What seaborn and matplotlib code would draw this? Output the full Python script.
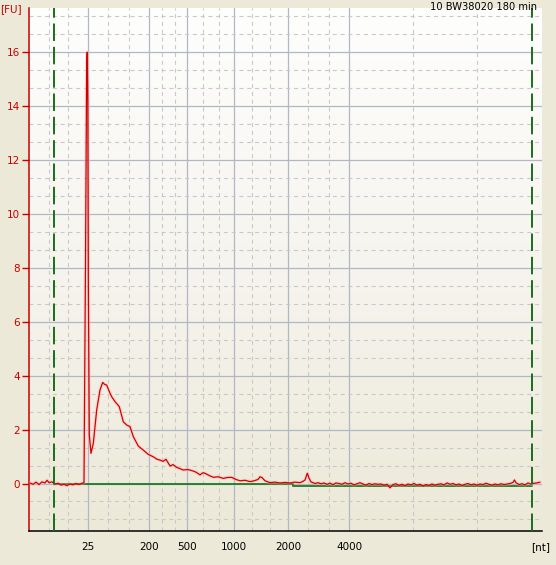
import numpy as np
import matplotlib
matplotlib.use("Agg")
import matplotlib.pyplot as plt
import seaborn as sns
from matplotlib.colors import LinearSegmentedColormap

# Electropherogram trace: migration time [s] and fluorescence [FU]
tiempo = [
    20.0, 20.3, 20.6, 20.9, 21.2, 21.5, 21.7, 21.9, 22.2, 22.5, 22.8, 23.1, 23.4, 23.7, 24.0,
    24.3, 24.6, 24.9, 25.2, 25.4,
    25.44, 25.56, 25.66, 25.72, 25.78, 25.83, 25.93, 26.1, 26.33, 26.67, 27.0, 27.27, 27.45,
    27.67, 28.0, 28.2, 28.5, 28.93, 29.33, 29.67, 30.0, 30.33, 30.83, 31.33, 31.83, 32.33,
    32.7, 33.0, 33.3, 33.6, 34.0, 34.3, 34.67, 35.0, 35.33, 35.8, 36.33, 36.6, 37.0, 37.3,
    37.5, 37.9, 38.33, 38.8, 39.33, 39.7, 40.17, 40.6, 41.0, 41.5, 42.0, 42.4, 42.8, 43.0,
    43.2, 43.5, 44.0, 44.5, 45.0, 45.5, 46.0, 46.5, 47.0, 47.3, 47.5, 47.73, 47.9, 48.1,
    48.5, 48.8, 49.1, 49.4, 49.7, 50.0, 50.3, 50.6, 50.9, 51.2, 51.5, 51.8, 52.1, 52.4,
    52.7, 53.0, 53.3, 53.6, 53.9, 54.2, 54.5, 54.8, 55.1, 55.4, 55.7, 56.0, 56.3, 56.6,
    56.9, 57.2, 57.5, 57.8, 58.1, 58.4, 58.7, 59.0, 59.3, 59.6, 59.9, 60.2, 60.5, 60.8,
    61.1, 61.4, 61.7, 62.0, 62.3, 62.6, 62.9, 63.2, 63.5, 63.8, 64.1, 64.4, 64.7, 65.0,
    65.3, 65.6, 65.9, 66.2, 66.5, 66.8, 67.1, 67.4, 67.7, 68.0, 68.3, 68.45, 68.6, 68.9,
    69.2, 69.5, 69.8, 70.1, 70.4, 70.7, 71.0,
]
fu = [
    0.02, -0.03, 0.05, -0.04, 0.06, 0.02, 0.12, 0.03, 0.06, -0.02, 0.01, -0.06, -0.03, -0.08, -0.02,
    -0.05, 0.00, -0.04, 0.01, 0.03,
    2.1, 8.8, 15.2, 16.0, 14.1, 7.7, 1.8, 1.12, 1.49, 2.73, 3.47, 3.75, 3.68,
    3.65, 3.35, 3.2, 3.04, 2.85, 2.29, 2.17, 2.11, 1.74, 1.39, 1.24, 1.08, 0.99,
    0.9, 0.87, 0.82, 0.9, 0.65, 0.7, 0.6, 0.55, 0.5, 0.52, 0.46, 0.42, 0.32, 0.4,
    0.38, 0.3, 0.23, 0.25, 0.19, 0.22, 0.23, 0.15, 0.1, 0.12, 0.07, 0.1, 0.15, 0.25,
    0.22, 0.1, 0.03, 0.05, 0.02, 0.04, 0.02, 0.05, 0.03, 0.08, 0.13, 0.38, 0.2, 0.06,
    0.00, 0.03, -0.01, 0.02, -0.03, 0.01, -0.04, 0.02, 0.00, -0.03, 0.03, -0.02, 0.01, -0.05,
    -0.01, 0.03, -0.02, -0.06, 0.00, -0.04, -0.01, -0.03, -0.02, -0.06, -0.03, -0.16, -0.04, -0.01,
    -0.07, -0.03, -0.08, -0.02, -0.05, 0.00, -0.06, -0.03, -0.09, -0.04, -0.07, -0.02, -0.06, -0.03,
    -0.01, -0.05, 0.02, -0.03, 0.00, -0.05, -0.02, -0.07, -0.03, 0.00, -0.05, -0.02, -0.06, -0.02,
    -0.04, 0.01, -0.03, -0.06, -0.02, -0.05, -0.01, -0.04, -0.02, 0.00, 0.04, 0.13, 0.03, -0.04,
    -0.01, -0.05, 0.02, -0.02, 0.01, 0.02, 0.05,
]

# Ladder sizes and their migration times
nt_labels = ["25", "200", "500", "1000", "2000", "4000"]
nt_times = [25.75, 31.93, 35.73, 40.43, 45.80, 51.93]

# lower / upper marker positions
marker_times = [22.35, 70.23]

# baseline
baseline_t = [22.35, 30.27, 46.27, 70.23]
baseline_fu = [0.0, -0.03, -0.08, -0.08]

titulo = "10 BW38020 180 min"

sns.set_style("white")
plt.rcParams["font.family"] = ["DejaVu Sans"]

W, H = 556, 565
fig = plt.figure(figsize=(W / 100, H / 100), dpi=100, facecolor="#ece9d8")
ax = fig.add_axes([29.3 / W, 1 - 530.7 / H, (541.5 - 29.3) / W, (530.7 - 8) / H])

# fondo en degradado
grad = np.linspace(0, 1, 256).reshape(-1, 1)
cmap = LinearSegmentedColormap.from_list("fondo", ["#fefefd", "#f6f4ee", "#ece9d8"])
ax.imshow(grad, extent=[0, 1, 0, 1], transform=ax.transAxes, cmap=cmap,
          aspect="auto", zorder=0, origin="upper")

xmin, xmax = 19.93, 71.15
ymin, ymax = -1.751, 17.64

# grid
ax.set_xticks(nt_times)
ax.set_xticklabels(nt_labels)
bordes = [xmin] + nt_times + [xmax]
menores = []
for a, b in zip(bordes[:-1], bordes[1:]):
    menores += [a + (b - a) / 3, a + 2 * (b - a) / 3]
ax.set_xticks(menores, minor=True)
ax.set_yticks(np.arange(0, 17, 2))
ax.set_yticks(np.arange(-4, 54, 2) / 3, minor=True)
ax.grid(which="major", color="#b2b7c6", lw=0.9, ls="-")
ax.grid(which="minor", color="#c9c9c9", lw=0.8, ls=(0, (3.6, 3.4)))
ax.set_axisbelow(True)

# baseline
sns.lineplot(x=baseline_t, y=baseline_fu, ax=ax, color="#1e7a1e", lw=1.3,
             drawstyle="steps-post", estimator=None, sort=False, zorder=3)

# trace (halo + line)
sns.lineplot(x=tiempo, y=fu, ax=ax, color="#ffb0b0", lw=2.6, alpha=0.35,
             estimator=None, sort=False, zorder=4)
sns.lineplot(x=tiempo, y=fu, ax=ax, color="#d40000", lw=0.9,
             estimator=None, sort=False, zorder=5)

# markers
for t in marker_times:
    ax.axvline(t, color="#1a6e1a", lw=1.4, ls=(0, (9, 3)), zorder=6)

ax.set_xlim(xmin, xmax)
ax.set_ylim(ymin, ymax)

for s in ["top", "right"]:
    ax.spines[s].set_visible(False)
ax.spines["left"].set_color("#c80000")
ax.spines["left"].set_linewidth(1.1)
ax.spines["bottom"].set_color("black")
ax.spines["bottom"].set_linewidth(1.1)

ax.tick_params(axis="y", which="major", left=True, colors="#c80000", length=5, width=1,
               pad=2, labelsize=7.5)
ax.tick_params(axis="x", which="major", length=0, pad=8, labelsize=7.5, labelcolor="black")
ax.tick_params(which="minor", length=0)
ax.set_xlabel("")
ax.set_ylabel("")

fig.text(0.5 / W, 1 - 9.5 / H, "[FU]", color="#c80000", fontsize=7.5, ha="left", va="center")
fig.text(541 / W, 1 - 547 / H, "[nt]", color="black", fontsize=7.5, ha="center", va="center")
fig.text(537 / W, 1 - 7.5 / H, titulo, color="black", fontsize=7.1, ha="right", va="center")

fig.savefig("out.png", dpi=100, facecolor=fig.get_facecolor())
